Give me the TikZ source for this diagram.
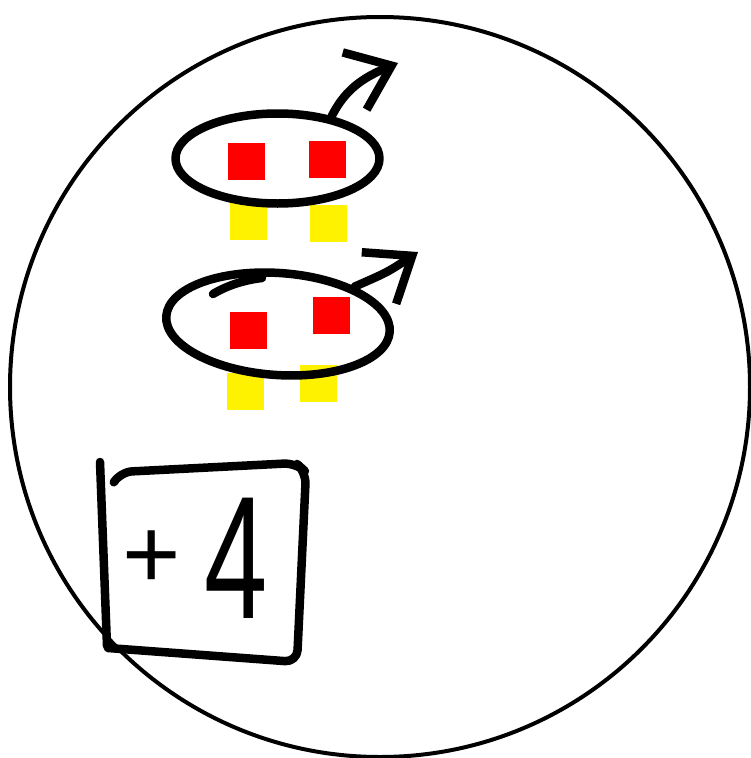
\documentclass[tikz,border=0pt]{standalone}
\usepackage{fontspec}
\setmainfont{Liberation Sans}
\usetikzlibrary{shapes.geometric,arrows.meta}
\begin{document}
\begin{tikzpicture}[x=1pt, y=-1pt, line cap=round, line join=round]
\tikzstyle{pen}=[line width=8.5pt]
\tikzstyle{redsq}=[fill=red, minimum size=37pt, inner sep=0pt]
\tikzstyle{yelsq}=[fill=yellow, minimum size=37pt, inner sep=0pt]
\tikzstyle{loop}=[ellipse, draw, pen, inner sep=0pt]
\tikzstyle{tip}=[-{Straight Barb[length=40pt, width=62pt]}]
\useasboundingbox (0,0) rectangle (751,758);
\node[draw, circle, line width=4pt, minimum size=740pt, inner sep=0pt] (plate) at (380,387) {};
\node[yelsq] (y1) at (248.5,221.5) {}; \node[yelsq] (y2) at (328.5,223) {};
\node[yelsq] (y3) at (245,391.5) {}; \node[yelsq] (y4) at (318.5,383) {};
\node[redsq] (r1) at (246.5,161) {}; \node[redsq] (r2) at (327.5,159.5) {};
\node[redsq] (r3) at (248,330) {}; \node[redsq] (r4) at (331.5,315) {};
\node[loop, minimum width=204pt, minimum height=90pt] (pair1) at (277.5,158.5) {};
\node[loop, minimum width=224pt, minimum height=102pt, rotate=-4] (pair2) at (278,324) {};
\coordinate (head1) at (398,63);
\coordinate (head2) at (418,252);
\draw[pen, tip] (pair1.38) .. controls (345,90) and (362,78) .. (head1);
\draw[pen, tip] (pair2.30) .. controls (388,272) .. (head2);
\draw[pen] (213,294) .. controls (228,285) and (245,280) .. (262,278);
\draw[pen] (100,462) -- (107,646);
\draw[pen, rounded corners=12pt] (114,482) -- (120,472) -- (296,463) -- (306,472) -- (297,662) -- (108,648);
\node[anchor=base west, inner sep=0pt] (score) at (122,618) {\raisebox{30pt}{\fontsize{100}{100}\selectfont +}\kern 24pt\scalebox{0.65}[1]{\fontsize{175}{175}\selectfont 4}};
\end{tikzpicture}
\end{document}
